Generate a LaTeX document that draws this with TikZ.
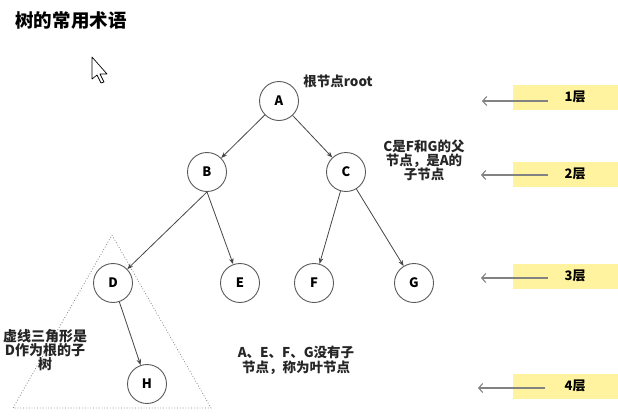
\documentclass[tikz,border=0pt]{standalone}
\usepackage{fontspec}
\setmainfont{Noto Sans CJK SC}
\usetikzlibrary{arrows.meta}
\definecolor{layeryellow}{RGB}{255,243,160}
\definecolor{edgegray}{RGB}{70,70,70}
\definecolor{circgray}{RGB}{90,90,90}
\definecolor{arrowgray}{RGB}{130,130,130}
\tikzset{
  treenode/.style={circle,draw=circgray,line width=0.9pt,fill=white,minimum size=39pt,inner sep=0pt,font=\fontsize{13}{13}\selectfont\bfseries},
  treeedge/.style={draw=edgegray,line width=0.8pt,-{Stealth[length=6pt,width=4.5pt]}},
  note/.style={align=center,inner sep=0pt,font=\fontsize{13.5}{14}\selectfont\bfseries,text=black!85},
  layerbox/.style={fill=layeryellow,minimum width=106pt,minimum height=25pt,inner sep=0pt,anchor=west,font=\fontsize{13}{13}\selectfont\bfseries},
  layerarrow/.style={draw=arrowgray,line width=1.1pt,-{Straight Barb[length=4pt,width=9pt]}},
}
\begin{document}
\begin{tikzpicture}[x=1pt,y=-1pt]
\useasboundingbox (0,0) rectangle (618,418);
\fill[white] (0,0) rectangle (618,418);
% title
\node[inner sep=0pt,font=\fontsize{18.5}{18.5}\selectfont\bfseries] (title) at (71,21) {树的常用术语};
% cursor
\draw[black,line width=0.7pt,fill=white,line join=round] (92,57) -- (92,79) -- (97,75) -- (101,83) -- (104,82) -- (100,74) -- (107,74) -- cycle;
% subtree triangle
\draw[dotted,draw=arrowgray,line width=0.8pt] (112,235) -- (211,408) -- (13,408) -- cycle;
% tree nodes
\node[treenode] (A) at (279,101) {A};
\node[treenode] (B) at (207,172) {B};
\node[treenode] (C) at (346,172) {C};
\node[treenode] (D) at (113,283) {D};
\node[treenode] (E) at (240,283) {E};
\node[treenode] (F) at (314,283) {F};
\node[treenode] (G) at (414,283) {G};
\node[treenode] (H) at (147,384) {H};
\draw[treeedge] (A) -- (B);
\draw[treeedge] (A) -- (C);
\draw[treeedge] (B.south) -- (D);
\draw[treeedge] (B.south) -- (E);
\draw[treeedge] (C) -- (F);
\draw[treeedge] (C) -- (G);
\draw[treeedge] (D) -- (H);
% notes
\node[note] (rootnote) at (338,81) {根节点root};
\node[note] (cnote) at (424,160) {C是F和G的父\\节点，是A的\\子节点};
\node[note,font=\fontsize{14}{14}\selectfont\bfseries] (dnote) at (45,350) {虚线三角形是\\D作为根的子\\树};
\node[note,font=\fontsize{13.5}{15}\selectfont\bfseries] (leafnote) at (296,360) {A、E、F、G没有子\\节点，称为叶节点};
% layers
\node[layerbox] (L1) at (513,97) {\hspace{18pt}1层};
\node[layerbox] (L2) at (513,174) {\hspace{18pt}2层};
\node[layerbox] (L3) at (513,276) {\hspace{18pt}3层};
\node[layerbox] (L4) at (513,386) {\hspace{18pt}4层};
\coordinate (a1s) at (548,101); \coordinate (a1e) at (482,101);
\coordinate (a2s) at (548,175); \coordinate (a2e) at (481,175);
\coordinate (a3s) at (548,278); \coordinate (a3e) at (481,278);
\coordinate (a4s) at (545,388); \coordinate (a4e) at (478,388);
\draw[layerarrow] (a1s) -- (a1e);
\draw[layerarrow] (a2s) -- (a2e);
\draw[layerarrow] (a3s) -- (a3e);
\draw[layerarrow] (a4s) -- (a4e);
\end{tikzpicture}
\end{document}
